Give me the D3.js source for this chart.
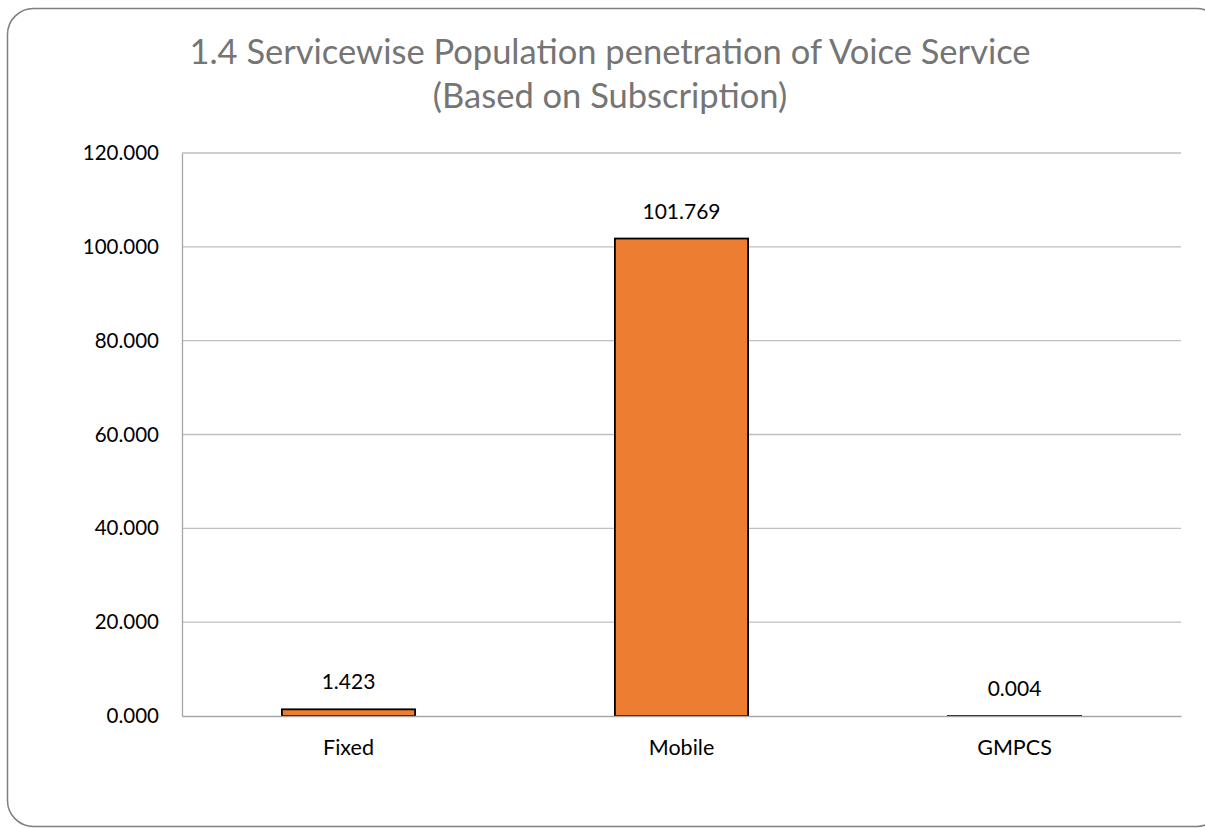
<!DOCTYPE html>
<html>
<head>
<meta charset="utf-8">
<script src="https://cdn.jsdelivr.net/npm/d3@7"></script>
<style>
  body { margin: 0; background: #fff; }
  svg { display: block; font-family: Lato, "Open Sans", sans-serif; }
</style>
</head>
<body>
<svg id="chart"></svg>
<script>
// categories and their values
const categories = ["Fixed", "Mobile", "GMPCS"]
const penetration = [1.423, 101.769, 0.004]
const yTicks = [0, 20, 40, 60, 80, 100, 120]
const titleLines = ["1.4 Servicewise Population penetration of Voice Service", "(Based on Subscription)"]

const data = categories.map((c, i) => ({ name: c, value: penetration[i] }))

let dimensions = {
  width: 1205, height: 829,
  margin: { top: 153, right: 24, bottom: 113, left: 182 },
}
dimensions.boundedWidth = dimensions.width - dimensions.margin.left - dimensions.margin.right
dimensions.boundedHeight = dimensions.height - dimensions.margin.top - dimensions.margin.bottom

const svg = d3.select("#chart")
    .attr("width", dimensions.width)
    .attr("height", dimensions.height)

// rounded frame round the whole chart
svg.append("rect")
    .attr("x", 7.5).attr("y", 8.5)
    .attr("width", 1215).attr("height", 818)
    .attr("rx", 26)
    .attr("fill", "#fff")
    .attr("stroke", "#7f7f7f")
    .attr("stroke-width", 1.5)

svg.append("text")
    .attr("text-anchor", "middle")
    .attr("fill", "#757575")
    .attr("font-size", 34.5)
    .selectAll("tspan")
    .data(titleLines)
    .join("tspan")
      .attr("x", 610)
      .attr("y", (d, i) => 64 + i * 44)
      .text(d => d)

const bounds = svg.append("g")
    .attr("transform", `translate(${dimensions.margin.left}, ${dimensions.margin.top})`)

const xScale = d3.scaleBand()
    .domain(categories)
    .range([0, dimensions.boundedWidth])
    .paddingInner(0.6)
    .paddingOuter(0.3)

const yScale = d3.scaleLinear()
    .domain([0, 120])
    .range([dimensions.boundedHeight, 0])

// gridlines
bounds.append("g")
  .selectAll("line")
  .data(yTicks.slice(1))
  .join("line")
    .attr("x1", 0).attr("x2", dimensions.boundedWidth)
    .attr("y1", d => yScale(d)).attr("y2", d => yScale(d))
    .attr("stroke", "#bfbfbf")
    .attr("stroke-width", 1.3)

const yAxis = bounds.append("g")
    .call(d3.axisLeft(yScale).tickValues(yTicks).tickFormat(d3.format(".3f")).tickSize(0).tickPadding(23))
yAxis.select(".domain").attr("stroke", "#a6a6a6").attr("stroke-width", 1.3)
yAxis.selectAll("text").attr("font-size", 20.5).attr("fill", "#000").attr("font-family", "Lato")

bounds.selectAll("rect.bar")
  .data(data)
  .join("rect")
    .attr("class", "bar")
    .attr("x", d => xScale(d.name))
    .attr("width", xScale.bandwidth())
    .attr("y", d => yScale(d.value))
    .attr("height", d => yScale(0) - yScale(d.value))
    .attr("fill", "#ed7d31")
    .attr("stroke", "#000")
    .attr("stroke-width", 1.8)

const xAxis = bounds.append("g")
    .attr("transform", `translate(0, ${dimensions.boundedHeight})`)
    .call(d3.axisBottom(xScale).tickSize(0).tickPadding(24))
xAxis.select(".domain").attr("stroke", "#a6a6a6").attr("stroke-width", 1.3)
xAxis.selectAll("text").attr("font-size", 21.5).attr("fill", "#000").attr("font-family", "Lato")

// value labels above bars
bounds.selectAll("text.value")
  .data(data)
  .join("text")
    .attr("class", "value")
    .attr("x", d => xScale(d.name) + xScale.bandwidth() / 2)
    .attr("y", d => yScale(d.value) - 20)
    .attr("text-anchor", "middle")
    .attr("font-size", 21)
    .attr("fill", "#000")
    .text(d => d3.format(".3f")(d.value))
</script>
</body>
</html>
